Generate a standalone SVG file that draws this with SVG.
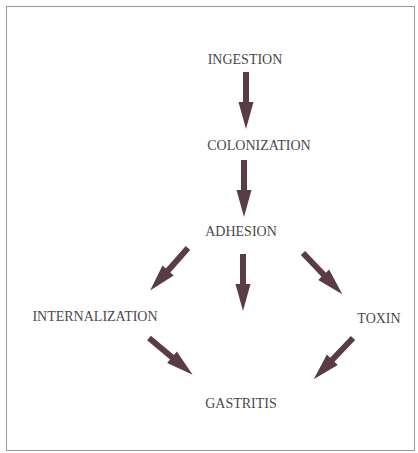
<svg xmlns="http://www.w3.org/2000/svg" xmlns:xlink="http://www.w3.org/1999/xlink" width="418" height="453" viewBox="0 0 418 453">
<style>
.lbl{font-family:"Liberation Serif","Times New Roman",serif;font-size:14px;fill:#4a4a4a;text-anchor:middle}
.arr{fill:#5a3c46}
</style>
<defs>
<path id="arrow" class="arr" d="M0,-3 H30 V-7.5 L57,0 L30,7.5 V3 H0 Z"/>
</defs>
<rect x="6.5" y="6.5" width="408" height="444" fill="#fff" stroke="#9a9a9a" stroke-width="1"/>
<g id="connectors">
<use href="#arrow" transform="translate(246,72) rotate(90)"/>
<use href="#arrow" transform="translate(244,160) rotate(90)"/>
<use href="#arrow" transform="translate(243,254) rotate(90)"/>
<use href="#arrow" transform="translate(188,248) rotate(131.6)"/>
<use href="#arrow" transform="translate(303,253) rotate(46.4)"/>
<use href="#arrow" transform="translate(149,338) rotate(40)"/>
<use href="#arrow" transform="translate(353,338) rotate(133.6)"/>
</g>
<g id="ingestion"><text class="lbl" x="245" y="64">INGESTION</text></g>
<g id="colonization"><text class="lbl" x="259" y="150">COLONIZATION</text></g>
<g id="adhesion"><text class="lbl" x="241" y="236">ADHESION</text></g>
<g id="internalization"><text class="lbl" x="95" y="321">INTERNALIZATION</text></g>
<g id="toxin"><text class="lbl" x="379" y="323">TOXIN</text></g>
<g id="gastritis"><text class="lbl" x="241" y="408">GASTRITIS</text></g>
</svg>
